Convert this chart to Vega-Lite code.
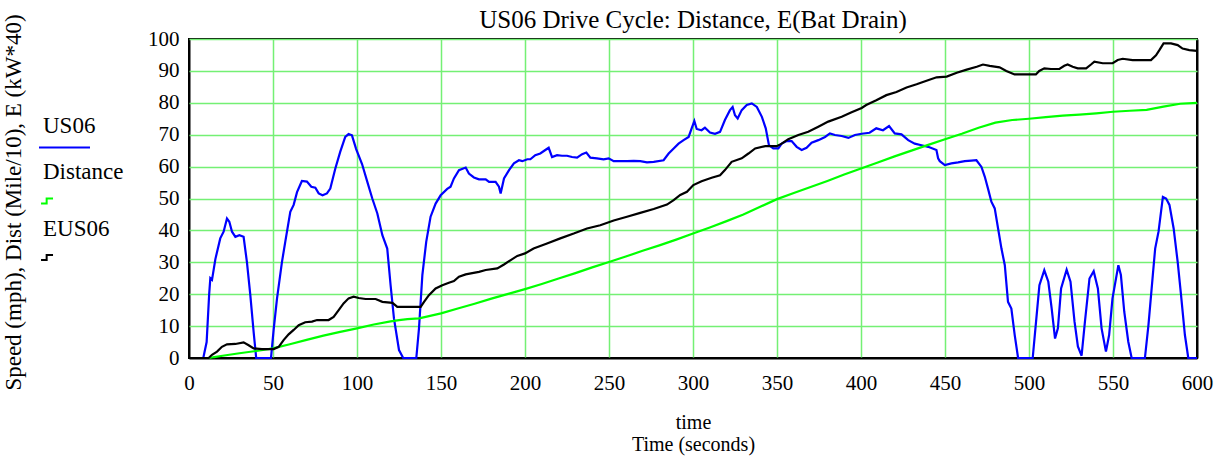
{
  "$schema": "https://vega.github.io/schema/vega-lite/v6.json",
  "autosize": {"type": "none"},
  "width": 1008,
  "height": 319,
  "padding": {"left": 189, "top": 39, "right": 34, "bottom": 104},
  "background": "white",
  "config": {
    "font": "Liberation Serif",
    "view": {"stroke": "black", "strokeWidth": 2},
    "axis": {"labelFont": "Liberation Serif", "titleFont": "Liberation Serif", "labelColor": "black", "titleColor": "black", "titleFontWeight": "normal", "ticks": false, "domain": false},
    "legend": {"labelFont": "Liberation Serif"}
  },
  "title": {"text": "US06 Drive Cycle: Distance, E(Bat Drain)", "font": "Liberation Serif", "fontSize": 25, "fontWeight": "normal", "color": "black", "offset": 8, "dy": 27},
  "data": {"values": [
      {"t":0,"v":0,"s":"US06"},{"t":8.5,"v":0,"s":"US06"},{"t":10.5,"v":5,"s":"US06"},{"t":12,"v":20,"s":"US06"},{"t":12.7,"v":25,"s":"US06"},{"t":13.7,"v":24.5,"s":"US06"},{"t":15.7,"v":31,"s":"US06"},{"t":18.6,"v":37.5,"s":"US06"},{"t":20.6,"v":39.6,"s":"US06"},{"t":22.6,"v":43.7,"s":"US06"},{"t":24,"v":42.7,"s":"US06"},{"t":25.6,"v":39.6,"s":"US06"},{"t":27.6,"v":38,"s":"US06"},{"t":30,"v":38.5,"s":"US06"},{"t":32.5,"v":38,"s":"US06"},{"t":34.5,"v":30,"s":"US06"},{"t":36.5,"v":19.7,"s":"US06"},{"t":38.5,"v":8,"s":"US06"},{"t":40,"v":0,"s":"US06"},{"t":48.8,"v":0,"s":"US06"},{"t":50.4,"v":9,"s":"US06"},{"t":52.4,"v":18.7,"s":"US06"},{"t":55.3,"v":30,"s":"US06"},{"t":57.3,"v":36.4,"s":"US06"},{"t":60.3,"v":45.8,"s":"US06"},{"t":62.3,"v":48,"s":"US06"},{"t":64.3,"v":52,"s":"US06"},{"t":67.2,"v":55.5,"s":"US06"},{"t":70.2,"v":55.3,"s":"US06"},{"t":72.8,"v":53.7,"s":"US06"},{"t":75.2,"v":53.4,"s":"US06"},{"t":77.2,"v":51.6,"s":"US06"},{"t":79.5,"v":51,"s":"US06"},{"t":82.1,"v":51.6,"s":"US06"},{"t":84.1,"v":53.1,"s":"US06"},{"t":87.1,"v":59.4,"s":"US06"},{"t":90,"v":64.6,"s":"US06"},{"t":93,"v":69.3,"s":"US06"},{"t":95,"v":70.2,"s":"US06"},{"t":97,"v":69.8,"s":"US06"},{"t":99.5,"v":65.5,"s":"US06"},{"t":103,"v":60.8,"s":"US06"},{"t":106.1,"v":55.3,"s":"US06"},{"t":109.1,"v":50,"s":"US06"},{"t":112.1,"v":45.3,"s":"US06"},{"t":115.1,"v":38.5,"s":"US06"},{"t":118,"v":34.3,"s":"US06"},{"t":120,"v":22.8,"s":"US06"},{"t":122,"v":12.4,"s":"US06"},{"t":125,"v":2.5,"s":"US06"},{"t":127.5,"v":0,"s":"US06"},{"t":135.3,"v":0,"s":"US06"},{"t":136.9,"v":9.3,"s":"US06"},{"t":138.9,"v":26,"s":"US06"},{"t":141.2,"v":36.4,"s":"US06"},{"t":143.8,"v":44.3,"s":"US06"},{"t":146.8,"v":48.4,"s":"US06"},{"t":149.8,"v":51,"s":"US06"},{"t":153.7,"v":53,"s":"US06"},{"t":155.7,"v":53.7,"s":"US06"},{"t":157.7,"v":56.3,"s":"US06"},{"t":160.7,"v":58.9,"s":"US06"},{"t":164.7,"v":59.7,"s":"US06"},{"t":166.6,"v":57.8,"s":"US06"},{"t":169.6,"v":56.6,"s":"US06"},{"t":172.6,"v":56,"s":"US06"},{"t":176.6,"v":56,"s":"US06"},{"t":178.6,"v":55.2,"s":"US06"},{"t":182.5,"v":55.2,"s":"US06"},{"t":184.5,"v":53.7,"s":"US06"},{"t":185.5,"v":51.6,"s":"US06"},{"t":187.5,"v":56.3,"s":"US06"},{"t":190.5,"v":58.9,"s":"US06"},{"t":193.4,"v":61,"s":"US06"},{"t":196.4,"v":62,"s":"US06"},{"t":198.4,"v":61.7,"s":"US06"},{"t":201.4,"v":62.3,"s":"US06"},{"t":203.2,"v":62.3,"s":"US06"},{"t":206.1,"v":63.6,"s":"US06"},{"t":209.1,"v":64.1,"s":"US06"},{"t":212.1,"v":65.2,"s":"US06"},{"t":214.1,"v":65.9,"s":"US06"},{"t":216.1,"v":63,"s":"US06"},{"t":219.1,"v":63.6,"s":"US06"},{"t":222,"v":63.4,"s":"US06"},{"t":225,"v":63.4,"s":"US06"},{"t":228,"v":63,"s":"US06"},{"t":231,"v":62.8,"s":"US06"},{"t":234,"v":63.9,"s":"US06"},{"t":236.5,"v":64.4,"s":"US06"},{"t":238.9,"v":62.8,"s":"US06"},{"t":242.8,"v":62.6,"s":"US06"},{"t":246.8,"v":62.3,"s":"US06"},{"t":249.8,"v":62.6,"s":"US06"},{"t":252.8,"v":61.7,"s":"US06"},{"t":256.7,"v":61.7,"s":"US06"},{"t":260.7,"v":61.7,"s":"US06"},{"t":264.7,"v":61.8,"s":"US06"},{"t":268.6,"v":61.7,"s":"US06"},{"t":272.6,"v":61.3,"s":"US06"},{"t":276.6,"v":61.5,"s":"US06"},{"t":282.5,"v":62,"s":"US06"},{"t":285.5,"v":64.1,"s":"US06"},{"t":288.5,"v":65.7,"s":"US06"},{"t":291.4,"v":67.2,"s":"US06"},{"t":294.4,"v":68.3,"s":"US06"},{"t":297.4,"v":69.3,"s":"US06"},{"t":299.2,"v":72,"s":"US06"},{"t":300.8,"v":74.3,"s":"US06"},{"t":302.2,"v":71.8,"s":"US06"},{"t":305.1,"v":71.4,"s":"US06"},{"t":307.1,"v":72.2,"s":"US06"},{"t":310.1,"v":70.7,"s":"US06"},{"t":313.1,"v":70.3,"s":"US06"},{"t":316.1,"v":70.9,"s":"US06"},{"t":319,"v":74.6,"s":"US06"},{"t":322,"v":77.7,"s":"US06"},{"t":323.6,"v":78.7,"s":"US06"},{"t":325,"v":76.1,"s":"US06"},{"t":326.6,"v":75.1,"s":"US06"},{"t":329,"v":77.7,"s":"US06"},{"t":332,"v":79.3,"s":"US06"},{"t":335,"v":79.8,"s":"US06"},{"t":338,"v":78.7,"s":"US06"},{"t":341,"v":75.6,"s":"US06"},{"t":343.3,"v":72,"s":"US06"},{"t":345.2,"v":66.7,"s":"US06"},{"t":347.8,"v":65.7,"s":"US06"},{"t":350.8,"v":65.7,"s":"US06"},{"t":352.8,"v":67.2,"s":"US06"},{"t":355.8,"v":68,"s":"US06"},{"t":358.7,"v":68,"s":"US06"},{"t":361.7,"v":66.2,"s":"US06"},{"t":364.7,"v":65.2,"s":"US06"},{"t":367.6,"v":65.9,"s":"US06"},{"t":370.6,"v":67.5,"s":"US06"},{"t":374.6,"v":68.3,"s":"US06"},{"t":378.6,"v":69.3,"s":"US06"},{"t":381.5,"v":70.4,"s":"US06"},{"t":384.5,"v":69.9,"s":"US06"},{"t":388.5,"v":69.6,"s":"US06"},{"t":392.5,"v":69,"s":"US06"},{"t":396.4,"v":69.9,"s":"US06"},{"t":400.4,"v":70.3,"s":"US06"},{"t":405.1,"v":70.6,"s":"US06"},{"t":409.1,"v":72,"s":"US06"},{"t":413.1,"v":71.4,"s":"US06"},{"t":416.7,"v":72.7,"s":"US06"},{"t":420.1,"v":70.4,"s":"US06"},{"t":424.1,"v":70.1,"s":"US06"},{"t":428.1,"v":68.3,"s":"US06"},{"t":432,"v":67.2,"s":"US06"},{"t":436,"v":66.7,"s":"US06"},{"t":440,"v":66.2,"s":"US06"},{"t":444.9,"v":65.2,"s":"US06"},{"t":445.9,"v":62.6,"s":"US06"},{"t":446.9,"v":61.7,"s":"US06"},{"t":449.9,"v":60.5,"s":"US06"},{"t":453.8,"v":61,"s":"US06"},{"t":457.8,"v":61.3,"s":"US06"},{"t":461.8,"v":61.7,"s":"US06"},{"t":465.7,"v":61.9,"s":"US06"},{"t":468.7,"v":62,"s":"US06"},{"t":471.7,"v":59.9,"s":"US06"},{"t":473.7,"v":56.8,"s":"US06"},{"t":475.6,"v":53.1,"s":"US06"},{"t":477.6,"v":49,"s":"US06"},{"t":479.6,"v":46.9,"s":"US06"},{"t":481.6,"v":40.6,"s":"US06"},{"t":483.6,"v":34.3,"s":"US06"},{"t":485.6,"v":29.1,"s":"US06"},{"t":487.5,"v":17.6,"s":"US06"},{"t":489.5,"v":15.5,"s":"US06"},{"t":491.5,"v":7.2,"s":"US06"},{"t":493.5,"v":0,"s":"US06"},{"t":502.2,"v":0,"s":"US06"},{"t":504.2,"v":11.4,"s":"US06"},{"t":506.2,"v":22.8,"s":"US06"},{"t":509.1,"v":27.5,"s":"US06"},{"t":511.5,"v":23.9,"s":"US06"},{"t":513.5,"v":15.5,"s":"US06"},{"t":515.5,"v":6.1,"s":"US06"},{"t":517.2,"v":9.3,"s":"US06"},{"t":519.1,"v":21.8,"s":"US06"},{"t":522.4,"v":27.7,"s":"US06"},{"t":524.7,"v":23.9,"s":"US06"},{"t":527.1,"v":11.4,"s":"US06"},{"t":529.1,"v":3.6,"s":"US06"},{"t":531.3,"v":0.7,"s":"US06"},{"t":533.3,"v":11.4,"s":"US06"},{"t":536,"v":24.9,"s":"US06"},{"t":538.5,"v":27.2,"s":"US06"},{"t":541,"v":21.8,"s":"US06"},{"t":543.2,"v":9.3,"s":"US06"},{"t":545.8,"v":2,"s":"US06"},{"t":547.7,"v":7.2,"s":"US06"},{"t":549.7,"v":18.7,"s":"US06"},{"t":553.2,"v":29.1,"s":"US06"},{"t":554.7,"v":26,"s":"US06"},{"t":556.7,"v":14.5,"s":"US06"},{"t":559.1,"v":5.1,"s":"US06"},{"t":561.1,"v":0,"s":"US06"},{"t":569,"v":0,"s":"US06"},{"t":571.1,"v":10.3,"s":"US06"},{"t":573.7,"v":26,"s":"US06"},{"t":575.1,"v":34.3,"s":"US06"},{"t":577.1,"v":39.6,"s":"US06"},{"t":579.7,"v":50.5,"s":"US06"},{"t":581.6,"v":50,"s":"US06"},{"t":583.6,"v":48,"s":"US06"},{"t":586.1,"v":40.6,"s":"US06"},{"t":588.5,"v":30.1,"s":"US06"},{"t":590.5,"v":19.7,"s":"US06"},{"t":592.8,"v":7.2,"s":"US06"},{"t":594.8,"v":0,"s":"US06"},{"t":600,"v":0,"s":"US06"},
      {"t":0,"v":0,"s":"Distance"},{"t":12,"v":0,"s":"Distance"},{"t":15,"v":0.3,"s":"Distance"},{"t":20,"v":0.7,"s":"Distance"},{"t":30,"v":1.5,"s":"Distance"},{"t":40,"v":2.2,"s":"Distance"},{"t":50,"v":3,"s":"Distance"},{"t":60,"v":4.3,"s":"Distance"},{"t":70,"v":5.7,"s":"Distance"},{"t":80,"v":7,"s":"Distance"},{"t":90,"v":8.2,"s":"Distance"},{"t":100,"v":9.3,"s":"Distance"},{"t":110,"v":10.5,"s":"Distance"},{"t":120,"v":11.5,"s":"Distance"},{"t":125,"v":11.9,"s":"Distance"},{"t":130,"v":12.2,"s":"Distance"},{"t":137,"v":12.4,"s":"Distance"},{"t":150,"v":14,"s":"Distance"},{"t":160,"v":15.5,"s":"Distance"},{"t":170,"v":17,"s":"Distance"},{"t":180,"v":18.6,"s":"Distance"},{"t":190,"v":20.1,"s":"Distance"},{"t":200,"v":21.6,"s":"Distance"},{"t":210,"v":23.2,"s":"Distance"},{"t":220,"v":24.9,"s":"Distance"},{"t":230,"v":26.6,"s":"Distance"},{"t":240,"v":28.4,"s":"Distance"},{"t":250,"v":30.1,"s":"Distance"},{"t":260,"v":31.8,"s":"Distance"},{"t":270,"v":33.6,"s":"Distance"},{"t":280,"v":35.3,"s":"Distance"},{"t":290,"v":37.1,"s":"Distance"},{"t":300,"v":39,"s":"Distance"},{"t":310,"v":40.9,"s":"Distance"},{"t":320,"v":42.9,"s":"Distance"},{"t":330,"v":45,"s":"Distance"},{"t":340,"v":47.4,"s":"Distance"},{"t":350,"v":49.8,"s":"Distance"},{"t":360,"v":51.7,"s":"Distance"},{"t":370,"v":53.6,"s":"Distance"},{"t":380,"v":55.5,"s":"Distance"},{"t":390,"v":57.5,"s":"Distance"},{"t":400,"v":59.4,"s":"Distance"},{"t":410,"v":61.3,"s":"Distance"},{"t":420,"v":63.2,"s":"Distance"},{"t":430,"v":65,"s":"Distance"},{"t":440,"v":66.8,"s":"Distance"},{"t":450,"v":68.6,"s":"Distance"},{"t":460,"v":70.3,"s":"Distance"},{"t":470,"v":72.2,"s":"Distance"},{"t":480,"v":73.8,"s":"Distance"},{"t":490,"v":74.6,"s":"Distance"},{"t":500,"v":75,"s":"Distance"},{"t":510,"v":75.5,"s":"Distance"},{"t":520,"v":76,"s":"Distance"},{"t":530,"v":76.3,"s":"Distance"},{"t":540,"v":76.7,"s":"Distance"},{"t":550,"v":77.2,"s":"Distance"},{"t":560,"v":77.5,"s":"Distance"},{"t":570,"v":77.8,"s":"Distance"},{"t":580,"v":78.8,"s":"Distance"},{"t":590,"v":79.7,"s":"Distance"},{"t":600,"v":80,"s":"Distance"},
      {"t":0,"v":0,"s":"EUS06"},{"t":11.7,"v":0,"s":"EUS06"},{"t":13.7,"v":1,"s":"EUS06"},{"t":16.7,"v":2,"s":"EUS06"},{"t":19.6,"v":3.5,"s":"EUS06"},{"t":22.6,"v":4.3,"s":"EUS06"},{"t":27.6,"v":4.4,"s":"EUS06"},{"t":32.5,"v":4.9,"s":"EUS06"},{"t":35.5,"v":4,"s":"EUS06"},{"t":38.5,"v":3,"s":"EUS06"},{"t":43.4,"v":2.8,"s":"EUS06"},{"t":50.4,"v":2.8,"s":"EUS06"},{"t":53.4,"v":3.5,"s":"EUS06"},{"t":56.3,"v":5.6,"s":"EUS06"},{"t":59.3,"v":7.4,"s":"EUS06"},{"t":62.3,"v":8.8,"s":"EUS06"},{"t":65.3,"v":10.3,"s":"EUS06"},{"t":69.2,"v":11.2,"s":"EUS06"},{"t":73.2,"v":11.4,"s":"EUS06"},{"t":76.2,"v":11.9,"s":"EUS06"},{"t":83.1,"v":11.9,"s":"EUS06"},{"t":86.1,"v":12.9,"s":"EUS06"},{"t":89.1,"v":15,"s":"EUS06"},{"t":92,"v":17.1,"s":"EUS06"},{"t":95,"v":18.7,"s":"EUS06"},{"t":98,"v":19.2,"s":"EUS06"},{"t":101,"v":18.8,"s":"EUS06"},{"t":105.1,"v":18.5,"s":"EUS06"},{"t":111.1,"v":18.5,"s":"EUS06"},{"t":115.1,"v":17.6,"s":"EUS06"},{"t":121.1,"v":17.3,"s":"EUS06"},{"t":124,"v":16,"s":"EUS06"},{"t":137.9,"v":16,"s":"EUS06"},{"t":139.9,"v":17.6,"s":"EUS06"},{"t":142.8,"v":19.7,"s":"EUS06"},{"t":146.8,"v":21.8,"s":"EUS06"},{"t":150.8,"v":22.8,"s":"EUS06"},{"t":154.7,"v":23.6,"s":"EUS06"},{"t":157.7,"v":24.1,"s":"EUS06"},{"t":160.7,"v":25.5,"s":"EUS06"},{"t":164.7,"v":26.2,"s":"EUS06"},{"t":168.6,"v":26.6,"s":"EUS06"},{"t":172.6,"v":27,"s":"EUS06"},{"t":176.6,"v":27.6,"s":"EUS06"},{"t":183.5,"v":28.1,"s":"EUS06"},{"t":187.5,"v":29.3,"s":"EUS06"},{"t":191.5,"v":30.7,"s":"EUS06"},{"t":195.4,"v":32,"s":"EUS06"},{"t":200,"v":32.8,"s":"EUS06"},{"t":205.1,"v":34.3,"s":"EUS06"},{"t":213.1,"v":35.9,"s":"EUS06"},{"t":221,"v":37.5,"s":"EUS06"},{"t":229,"v":39,"s":"EUS06"},{"t":236.9,"v":40.6,"s":"EUS06"},{"t":244.8,"v":41.6,"s":"EUS06"},{"t":252.8,"v":43.1,"s":"EUS06"},{"t":260.7,"v":44.3,"s":"EUS06"},{"t":268.6,"v":45.5,"s":"EUS06"},{"t":276.6,"v":46.7,"s":"EUS06"},{"t":284.5,"v":48.1,"s":"EUS06"},{"t":288.5,"v":49.5,"s":"EUS06"},{"t":292.4,"v":51.1,"s":"EUS06"},{"t":296.4,"v":52.1,"s":"EUS06"},{"t":300.2,"v":54.2,"s":"EUS06"},{"t":305.1,"v":55.4,"s":"EUS06"},{"t":311.1,"v":56.5,"s":"EUS06"},{"t":316.1,"v":57.3,"s":"EUS06"},{"t":319,"v":58.9,"s":"EUS06"},{"t":323,"v":61.5,"s":"EUS06"},{"t":329,"v":62.6,"s":"EUS06"},{"t":333,"v":64.1,"s":"EUS06"},{"t":337,"v":65.7,"s":"EUS06"},{"t":343,"v":66.4,"s":"EUS06"},{"t":349.8,"v":66.4,"s":"EUS06"},{"t":352.8,"v":67.2,"s":"EUS06"},{"t":356.7,"v":68.6,"s":"EUS06"},{"t":362.7,"v":69.9,"s":"EUS06"},{"t":368.6,"v":70.9,"s":"EUS06"},{"t":374.6,"v":72.5,"s":"EUS06"},{"t":380.5,"v":74.1,"s":"EUS06"},{"t":388.5,"v":75.6,"s":"EUS06"},{"t":394.4,"v":77,"s":"EUS06"},{"t":400.4,"v":78.4,"s":"EUS06"},{"t":403.1,"v":79.3,"s":"EUS06"},{"t":409.1,"v":80.8,"s":"EUS06"},{"t":415.1,"v":82.4,"s":"EUS06"},{"t":421.1,"v":83.4,"s":"EUS06"},{"t":427.1,"v":84.8,"s":"EUS06"},{"t":433.1,"v":85.8,"s":"EUS06"},{"t":439,"v":86.9,"s":"EUS06"},{"t":445,"v":88,"s":"EUS06"},{"t":451,"v":88.2,"s":"EUS06"},{"t":457,"v":89.4,"s":"EUS06"},{"t":462.9,"v":90.4,"s":"EUS06"},{"t":468.9,"v":91.3,"s":"EUS06"},{"t":472.6,"v":92,"s":"EUS06"},{"t":476.6,"v":91.6,"s":"EUS06"},{"t":482.5,"v":91.1,"s":"EUS06"},{"t":486.5,"v":90,"s":"EUS06"},{"t":491.4,"v":88.9,"s":"EUS06"},{"t":504.1,"v":88.9,"s":"EUS06"},{"t":506.1,"v":90,"s":"EUS06"},{"t":509.1,"v":90.8,"s":"EUS06"},{"t":513.1,"v":90.6,"s":"EUS06"},{"t":518.1,"v":90.6,"s":"EUS06"},{"t":521,"v":91.6,"s":"EUS06"},{"t":523,"v":92,"s":"EUS06"},{"t":526,"v":91.3,"s":"EUS06"},{"t":529,"v":90.8,"s":"EUS06"},{"t":534,"v":90.8,"s":"EUS06"},{"t":536.9,"v":92,"s":"EUS06"},{"t":538.9,"v":92.9,"s":"EUS06"},{"t":543.9,"v":92.4,"s":"EUS06"},{"t":549.8,"v":92.4,"s":"EUS06"},{"t":552.8,"v":93.4,"s":"EUS06"},{"t":555.8,"v":93.8,"s":"EUS06"},{"t":561.7,"v":93.4,"s":"EUS06"},{"t":572.6,"v":93.4,"s":"EUS06"},{"t":575.6,"v":94.9,"s":"EUS06"},{"t":577.6,"v":96.5,"s":"EUS06"},{"t":580.1,"v":98.6,"s":"EUS06"},{"t":584.5,"v":98.6,"s":"EUS06"},{"t":588.5,"v":98.1,"s":"EUS06"},{"t":591.4,"v":97,"s":"EUS06"},{"t":595.4,"v":96.5,"s":"EUS06"},{"t":600,"v":96.3,"s":"EUS06"}
  ]},
  "mark": {"type": "line", "strokeWidth": 2.2},
  "encoding": {
    "x": {"field": "t", "type": "quantitative", "scale": {"domain": [0, 600], "nice": false, "zero": false},
      "axis": {"values": [0,50,100,150,200,250,300,350,400,450,500,550,600], "labelFontSize": 21, "labelPadding": 14, "labelFlush": false,
        "title": ["time", "Time (seconds)"], "titleFontSize": 20, "titleLineHeight": 22, "titleY": 54, "titleBaseline": "top",
        "gridColor": {"condition": {"test": "datum.value === 0 || datum.value === 600", "value": "black"}, "value": "#74f074"},
        "gridWidth": {"condition": {"test": "datum.value === 0 || datum.value === 600", "value": 2}, "value": 1.5}, "gridOpacity": 1}},
    "y": {"field": "v", "type": "quantitative", "scale": {"domain": [0, 100], "nice": false},
      "axis": {"values": [0,10,20,30,40,50,60,70,80,90,100], "labelFontSize": 21, "labelPadding": 10, "labelFlush": false,
        "title": "Speed (mph), Dist (Mile/10), E (kW*40)", "titleFontSize": 23, "titleX": -176, "titleY": 163, "titleBaseline": "middle",
        "gridColor": {"condition": {"test": "datum.value === 0", "value": "black"}, "value": "#74f074"},
        "gridWidth": {"condition": {"test": "datum.value === 0", "value": 2}, "value": 1.5}, "gridOpacity": 1}},
    "color": {"field": "s", "type": "nominal", "sort": ["US06", "Distance", "EUS06"],
      "scale": {"domain": ["US06", "Distance", "EUS06"], "range": ["#0000ff", "#00ff00", "#000000"]},
      "legend": {"orient": "none", "legendX": -151, "legendY": 82, "title": null,
        "symbolType": "stroke", "symbolSize": 2601, "symbolStrokeWidth": 2,
        "labelFontSize": 23, "labelColor": "black", "labelOffset": -48, "rowPadding": 8.5, "labelLimit": 300,
        "encode": {
          "symbols": {"update": {
            "shape": [{"test": "datum.value === 'US06'", "value": "stroke"}, {"value": "M-0.92,0.1H-0.7V-0.1H-0.45"}]
          }},
          "labels": {"update": {
            "dy": [{"test": "datum.value === 'US06'", "value": -22}, {"value": -29}]
          }}
        }}}
  }
}
